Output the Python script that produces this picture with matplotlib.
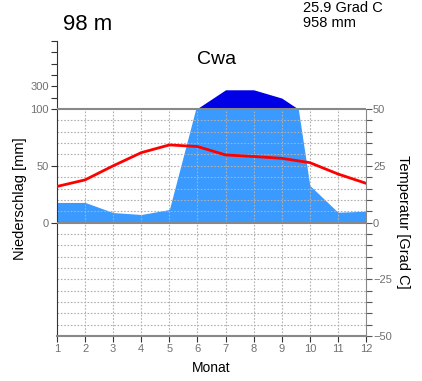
import numpy as np
import matplotlib.pyplot as plt

# climate diagram data
months = np.arange(1, 13)
precip = [17.7, 17.7, 8.8, 7.1, 11.5, 106, 270, 270, 197, 32.7, 9.1, 10.0]   # mm
temp = [15.9, 18.8, 25.0, 30.8, 34.2, 33.5, 29.8, 29.1, 28.3, 26.4, 21.4, 17.3]  # Grad C
left_ticks = [0, 50, 100, 200, 300, 400, 500, 600, 700]
left_labels = ["0", "50", "100", "", "300", "", "", "", ""]
right_ticks = list(range(-50, 51, 5))


def scale_p(p):
    # above 100 mm the scale is compressed by factor 10
    p = np.asarray(p, float)
    return np.where(p > 100, 100 + (p - 100) / 10, p)


plt.rcParams["font.family"] = ["Liberation Sans", "DejaVu Sans"]
fig = plt.figure(figsize=(4.22, 3.81), dpi=100)
W, H = 422, 381
ax = fig.add_axes([57 / W, 45 / H, 309 / W, 295 / H])
ax.set_xlim(1, 12)
ax.set_ylim(-100, 160)

# precipitation fill
x = np.linspace(1, 12, 2201)
yp = scale_p(np.interp(x, months, precip))
ax.fill_between(x, 0, np.minimum(yp, 100), color="#3a9aff", lw=0, zorder=2)
ax.fill_between(x, 100, yp, where=yp > 100, interpolate=True, color="#0000e6", lw=0, zorder=2)

# grid
grid_kw = dict(color="#b0b0b0", ls=(0, (1.5, 1.5)), lw=0.8, zorder=2.5)
for m in months[1:-1]:
    ax.plot([m, m], [-100, 100], **grid_kw)
for t in range(-45, 50, 5):
    if t != 0:
        ax.plot([1, 12], [2 * t, 2 * t], **grid_kw)
ax.axhline(0, color="#888888", lw=1.5, zorder=3)
ax.axhline(100, color="#888888", lw=1.5, zorder=3)

# temperature
ax.plot(months, 2 * np.array(temp), color="#ff0000", lw=2, zorder=4)

# axes
for s in ["top", "right"]:
    ax.spines[s].set_visible(False)
ax.spines["left"].set_bounds(-100, 160)
ax.spines["left"].set_color("#333333")
ax.spines["bottom"].set_color("#888888")
ax.spines["bottom"].set_linewidth(1.5)
ax.set_xticks(months)
ax.set_xticklabels([str(m) for m in months])
ax.set_yticks(scale_p(left_ticks))
ax.set_yticklabels(left_labels)
ax.tick_params(axis="both", direction="out", length=4, labelsize=8, colors="#333333",
               labelcolor="#707070", pad=2)

ax2 = ax.twinx()
ax2.set_ylim(-50, 80)
for s in ["top", "left", "bottom"]:
    ax2.spines[s].set_visible(False)
ax2.spines["right"].set_bounds(-50, 50)
ax2.spines["right"].set_color("#888888")
ax2.set_yticks(right_ticks)
ax2.set_yticklabels([("%d" % t).replace("-", "\u2212") if t % 25 == 0 else "" for t in right_ticks])
ax2.tick_params(axis="y", direction="out", length=4, labelsize=8, colors="#555555",
                labelcolor="#707070", pad=1)

# texts
fig.text(63 / W, 1 - 24 / H, "98 m", fontsize=16, va="center", ha="left")
fig.text(303 / W, 1 - 8 / H, "25.9 Grad C", fontsize=10.5, va="center", ha="left")
fig.text(303 / W, 1 - 23 / H, "958 mm", fontsize=10.5, va="center", ha="left")
fig.text(217 / W, 1 - 60 / H, "Cwa", fontsize=14, va="center", ha="center")
fig.text(211 / W, 1 - 368 / H, "Monat", fontsize=10, va="center", ha="center")
fig.text(20 / W, 1 - 199 / H, "Niederschlag [mm]", fontsize=10.5, va="center", ha="center", rotation=90)
fig.text(403 / W, 1 - 222 / H, "Temperatur [Grad C]", fontsize=10.5, va="center", ha="center", rotation=-90)

fig.savefig("out.png", dpi=100)
